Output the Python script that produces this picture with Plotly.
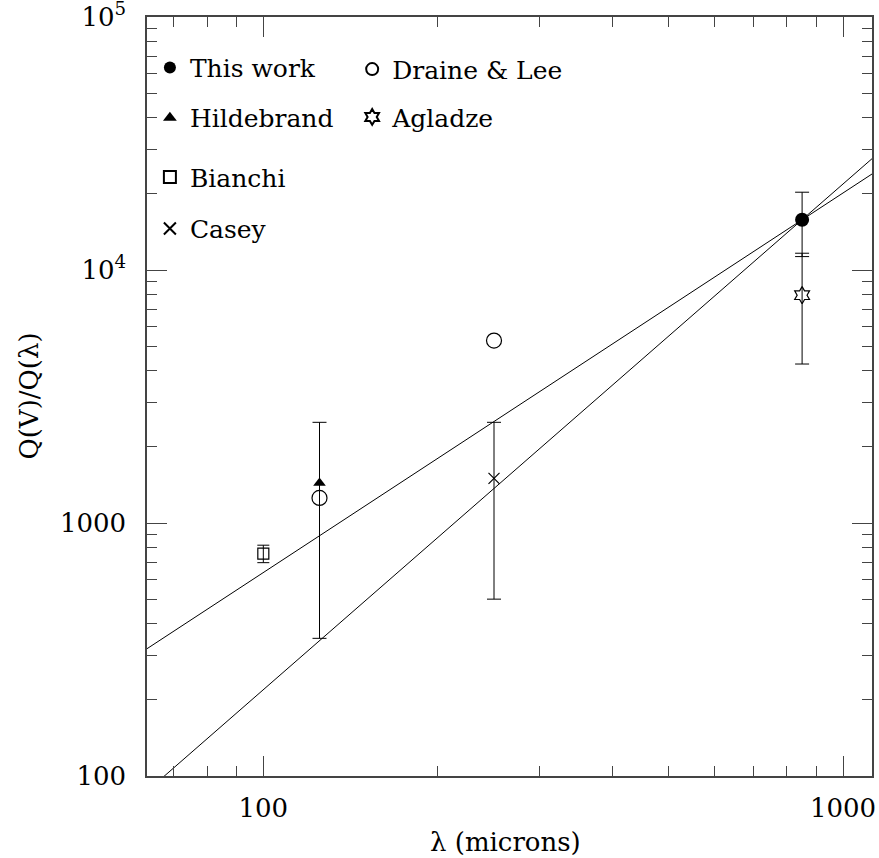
import plotly.graph_objects as go
import math

# ---- data ----
lam_this = [850]
q_this = [15800]
err_this = [4500]

lam_draine = [125, 250]
q_draine = [1256, 5260]

lam_hild = [125]
q_hild = [1440]
err_hild_up = [1060]
err_hild_dn = [1090]

lam_bianchi = [100]
q_bianchi = [757]
err_bianchi = [60]

lam_casey = [250]
q_casey = [1500]
err_casey = [1000]

lam_agladze = [850]
q_agladze = [7950]
err_agladze = [3700]

fit15_lam = [60, 1200]
fit15_q = [296, 26500]
fit2_lam = [60, 1200]
fit2_q = [79, 31500]

x_major = [100, 1000]
x_major_text = ["100", "1000"]
x_minor = [70, 80, 90, 200, 300, 400, 500, 600, 700, 800, 900]
y_major = [100, 1000, 10000, 100000]
y_major_text = ["100", "1000", "10<sup>4</sup>", "10<sup>5</sup>"]
y_minor = [m * d for d in (100, 1000, 10000) for m in range(2, 10)]

FONT = "DejaVu Serif"
AX = "#444444"

fig = go.Figure()

line_style = dict(color="black", width=1)
fig.add_trace(go.Scatter(x=fit15_lam, y=fit15_q, mode="lines", line=line_style, showlegend=False, hoverinfo="skip"))
fig.add_trace(go.Scatter(x=fit2_lam, y=fit2_q, mode="lines", line=line_style, showlegend=False, hoverinfo="skip"))

def eb(arr, arrm=None, w=7):
    d = dict(type="data", array=arr, color="black", thickness=1, width=w, visible=True)
    if arrm is not None:
        d["arrayminus"] = arrm
        d["symmetric"] = False
    return d

fig.add_trace(go.Scatter(x=lam_this, y=q_this, mode="markers", name="This work",
                         marker=dict(symbol="circle", size=14, color="black"),
                         error_y=eb(err_this), legend="legend"))
fig.add_trace(go.Scatter(x=lam_hild, y=q_hild, mode="markers", name="Hildebrand",
                         marker=dict(symbol="triangle-up", size=11, color="black"),
                         error_y=eb(err_hild_up, err_hild_dn), legend="legend2"))
fig.add_trace(go.Scatter(x=lam_bianchi, y=q_bianchi, mode="markers", name="Bianchi",
                         marker=dict(symbol="square-open", size=11, color="black", line=dict(width=1.2)),
                         error_y=eb(err_bianchi, w=6), legend="legend3"))
fig.add_trace(go.Scatter(x=lam_casey, y=q_casey, mode="markers", name="Casey",
                         marker=dict(symbol="x-thin-open", size=11, color="black", line=dict(width=1.2, color="black")),
                         error_y=eb(err_casey), legend="legend4"))
fig.add_trace(go.Scatter(x=lam_draine, y=q_draine, mode="markers", name="Draine & Lee",
                         marker=dict(symbol="circle-open", size=15, color="black", line=dict(width=1.2)),
                         legend="legend5"))
fig.add_trace(go.Scatter(x=lam_agladze, y=q_agladze, mode="markers", name="Agladze",
                         marker=dict(symbol="hexagram-open", size=13, color="black", line=dict(width=1.2)),
                         error_y=eb(err_agladze), legend="legend6"))

# invisible trace to carry the minor-tick overlay axes
fig.add_trace(go.Scatter(x=[100], y=[1000], xaxis="x2", yaxis="y2", mode="markers",
                         marker=dict(opacity=0), showlegend=False, hoverinfo="skip"))

xr = [math.log10(63), math.log10(1122)]
yr = [1.99995, 5.00005]

common = dict(showgrid=False, zeroline=False, ticks="inside", tickcolor=AX, tickwidth=1.2, automargin=False)
fig.update_layout(
    width=879, height=858,
    margin=dict(l=147, r=7, t=17, b=82),
    paper_bgcolor="white", plot_bgcolor="white",
    font=dict(family=FONT, size=25, color="black"),
    xaxis=dict(type="log", range=xr, tickvals=x_major, ticktext=x_major_text, ticklen=20,
               showline=True, linecolor=AX, linewidth=1.5, mirror="ticks",
               tickfont=dict(size=26), ticklabelstandoff=8, ticklabeloverflow="allow", **common),
    yaxis=dict(type="log", range=yr, tickvals=y_major, ticktext=y_major_text, ticklen=20,
               showline=True, linecolor=AX, linewidth=1.5, mirror="ticks",
               tickfont=dict(size=26), ticklabelstandoff=14, ticklabeloverflow="allow", **common),
    xaxis2=dict(type="log", range=xr, overlaying="x", anchor="y2", side="bottom", tickvals=x_minor,
                ticklen=10, showticklabels=False, mirror="ticks", showline=False, **common),
    yaxis2=dict(type="log", range=yr, overlaying="y", anchor="x2", side="left", tickvals=y_minor,
                ticklen=10, showticklabels=False, mirror="ticks", showline=False, **common),
    annotations=[
        dict(text="λ (microns)", xref="paper", yref="paper", x=0.495, y=-0.087, xanchor="center",
             yanchor="middle", showarrow=False, font=dict(size=26)),
        dict(text="Q(V)/Q(λ)", xref="paper", yref="paper", x=-0.164, y=0.5, xanchor="center",
             yanchor="middle", textangle=-90, showarrow=False, font=dict(size=26)),
    ],
)

def leg(x, y):
    return dict(x=x, y=y, xanchor="left", yanchor="middle", bgcolor="rgba(0,0,0,0)",
                borderwidth=0, itemsizing="constant", font=dict(family=FONT, size=25, color="black"))

fig.update_layout(
    legend=leg(0.004, 0.933),
    legend2=leg(0.004, 0.867),
    legend3=leg(0.004, 0.789),
    legend4=leg(0.004, 0.721),
    legend5=leg(0.283, 0.931),
    legend6=leg(0.283, 0.868),
)

fig.write_html("out.html", config={"displayModeBar": False},
               post_script="document.body.style.margin='0';document.body.style.overflow='hidden';")
